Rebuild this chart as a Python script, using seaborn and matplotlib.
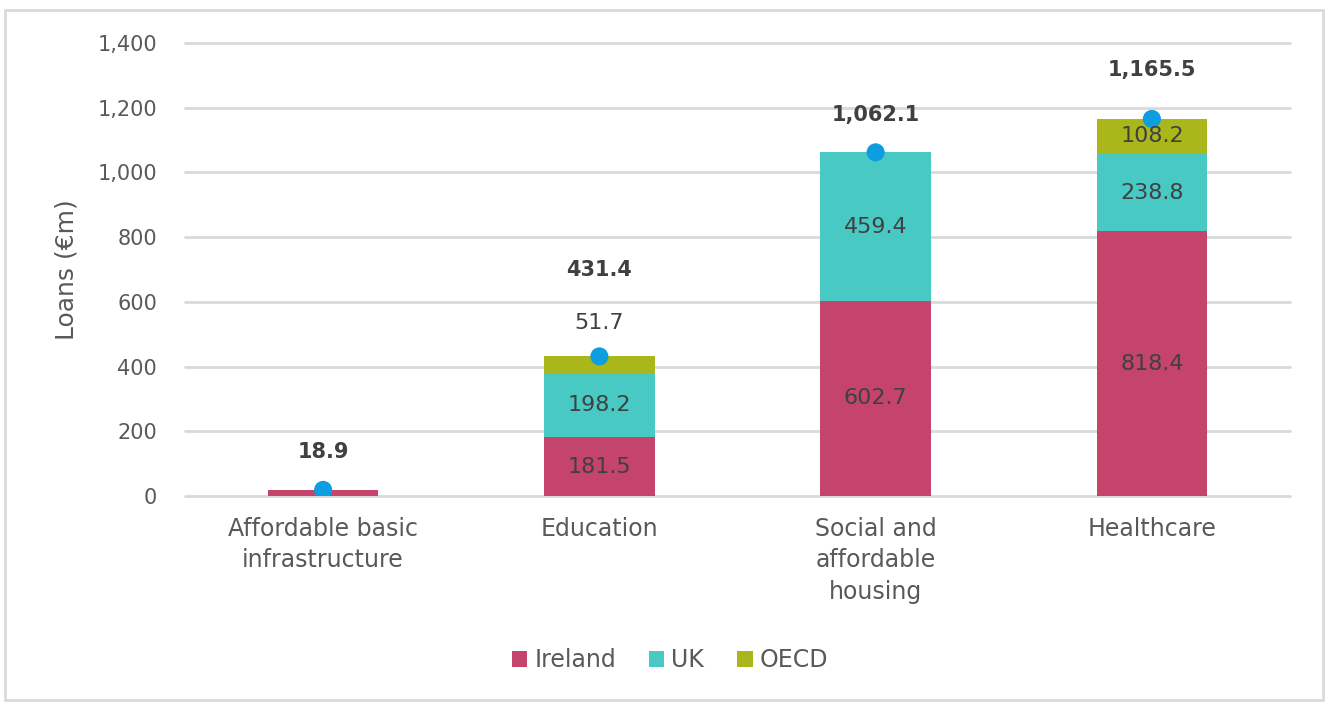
import numpy as np
import pandas as pd
import matplotlib
matplotlib.use("Agg")
import matplotlib.pyplot as plt
import seaborn as sns
from matplotlib.patches import Rectangle, Patch

# ---------------- data ----------------
categories = ["Affordable basic\ninfrastructure", "Education",
              "Social and\naffordable\nhousing", "Healthcare"]
series_names = ["Ireland", "UK", "OECD"]
ireland = [18.9, 181.5, 602.7, 818.4]
uk = [0.0, 198.2, 459.4, 238.8]
oecd = [0.0, 51.7, 0.0, 108.2]
total_labels = ["18.9", "431.4", "1,062.1", "1,165.5"]
y_ticks = [0, 200, 400, 600, 800, 1000, 1200, 1400]
y_label = "Loans (€m)"

# ---------------- style ----------------
colors = {"Ireland": "#C4446C", "UK": "#48C9C4", "OECD": "#AAB71B"}
dot_color = "#0D9DE1"
text_color = "#404040"
tick_color = "#595959"
grid_color = "#D9D9D9"
total_offset_pt = [27, 62, 27, 35]

sns.set_theme(style="white")
plt.rcParams['font.family'] = ['DejaVu Sans']

W, H = 1326, 704
fig = plt.figure(figsize=(W / 100, H / 100), dpi=100)
ax = fig.add_axes([185 / W, 1 - 496 / H, (1290 - 185) / W, (496 - 43) / H])

df = pd.DataFrame({"category": categories, "Ireland": ireland, "UK": uk, "OECD": oecd})
df["cum_UK"] = df["Ireland"] + df["UK"]
df["cum_OECD"] = df["cum_UK"] + df["OECD"]

for col, name in [("cum_OECD", "OECD"), ("cum_UK", "UK"), ("Ireland", "Ireland")]:
    sns.barplot(data=df, x="category", y=col, color=colors[name], width=0.4,
                saturation=1, linewidth=0, ax=ax, zorder=2)

xpos = np.arange(len(categories))
sns.scatterplot(x=xpos, y=df["cum_OECD"].values, color=dot_color, s=170,
                edgecolor="none", ax=ax, zorder=4)

# segment labels
for i in range(len(categories)):
    bottom = 0.0
    vals = [df["Ireland"][i], df["UK"][i], df["OECD"][i]]
    n_nonzero = sum(v > 0 for v in vals)
    for v in vals:
        if v > 0:
            if v < 80:
                if n_nonzero > 1:
                    ax.annotate(f"{v:.1f}", (i, bottom + v), xytext=(0, 24),
                                textcoords="offset points", ha="center", va="center",
                                fontsize=16, color=text_color, zorder=5)
            else:
                ax.text(i, bottom + v / 2, f"{v:.1f}", ha="center", va="center",
                        fontsize=16, color=text_color, zorder=5)
        bottom += v

# total labels
for i, lab in enumerate(total_labels):
    ax.annotate(lab, (i, df["cum_OECD"][i]), xytext=(0, total_offset_pt[i]),
                textcoords="offset points", ha="center", va="center",
                fontsize=15, fontweight="bold", color=text_color, zorder=5)

ax.set_ylim(0, 1400)
ax.set_xlim(-0.5, len(categories) - 0.5)
ax.set_yticks(y_ticks)
ax.set_yticklabels([f"{t:,}" for t in y_ticks], fontsize=15, color=tick_color)
ax.set_xticks(xpos)
ax.set_xticklabels(categories, fontsize=17, color=tick_color, linespacing=1.4)
ax.tick_params(axis="y", length=0, pad=20)
ax.tick_params(axis="x", length=0, pad=15)
ax.set_xlabel("")
ax.set_ylabel(y_label, fontsize=18, color=tick_color, labelpad=14)
ax.yaxis.grid(True, color=grid_color, linewidth=2, zorder=0)
ax.xaxis.grid(False)
ax.set_axisbelow(True)
for gl in ax.get_ygridlines():
    gl.set_clip_on(False)
for s in ax.spines.values():
    s.set_visible(False)

handles = [Patch(facecolor=colors[n], edgecolor="none") for n in series_names]
fig.legend(handles, series_names, loc="center", bbox_to_anchor=(670 / W, 1 - 660 / H),
           ncol=3, frameon=False, fontsize=17, handlelength=0.65, handleheight=0.65,
           handletextpad=0.3, columnspacing=1.4, labelcolor=tick_color)

fig.patches.append(Rectangle((5 / W, 4 / H), (1323 - 5) / W, (694 - 4) / H,
                             transform=fig.transFigure, fill=False,
                             edgecolor=grid_color, linewidth=2))

fig.savefig("out.png", dpi=100)
